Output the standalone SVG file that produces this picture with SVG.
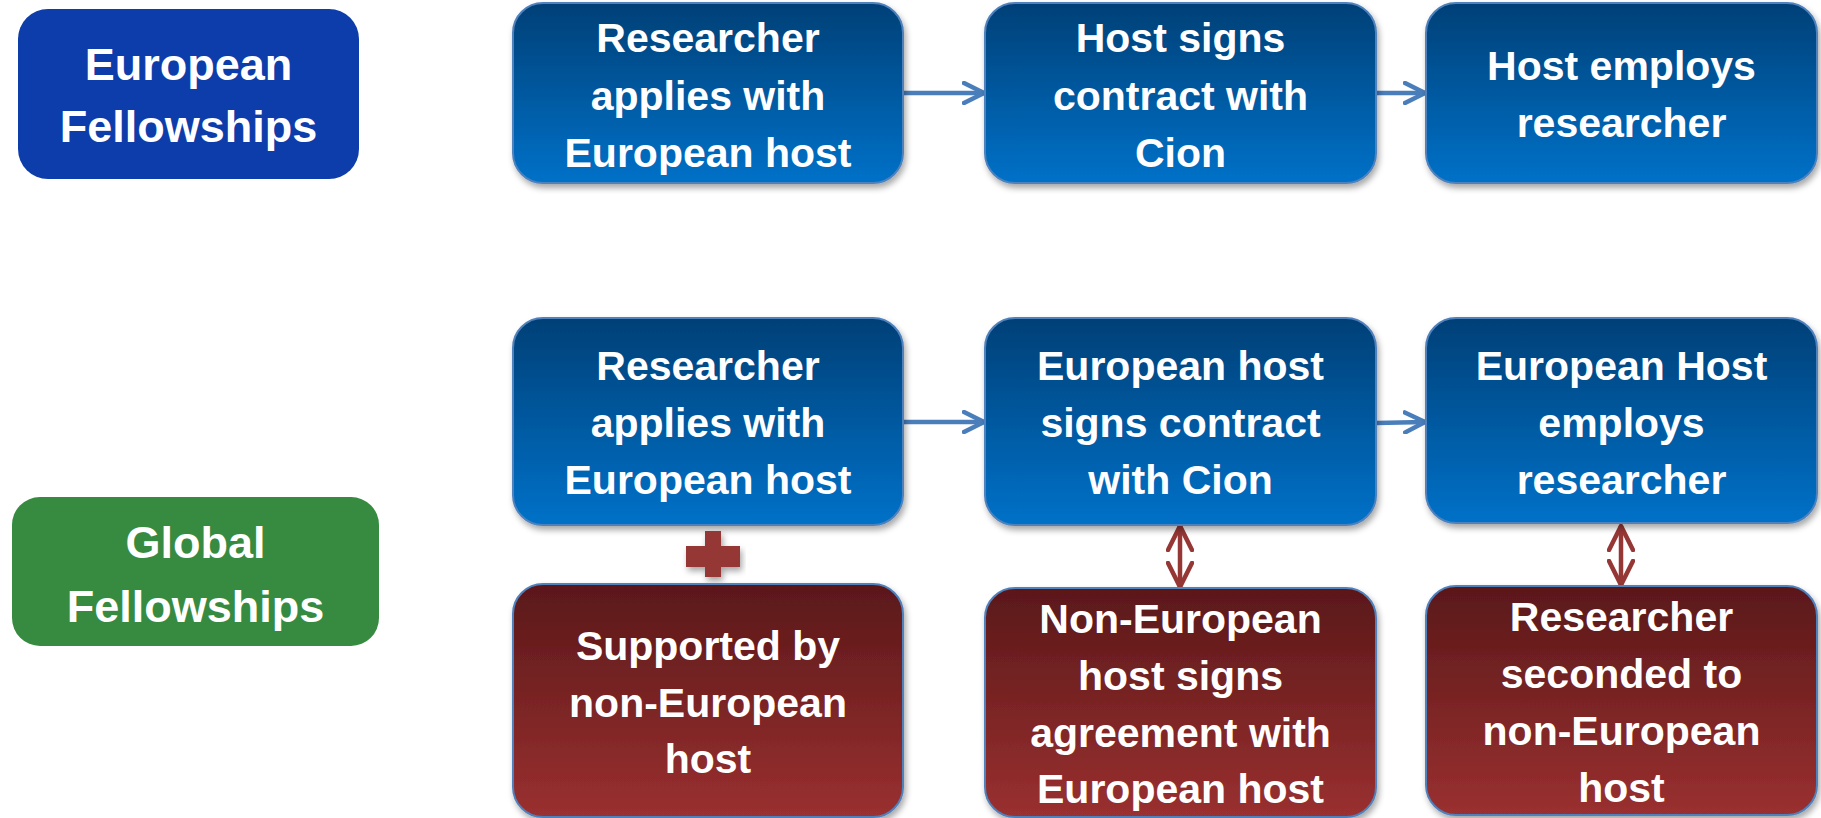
<svg xmlns="http://www.w3.org/2000/svg" width="1821" height="818" viewBox="0 0 1821 818">
<defs>
<linearGradient id="gBlue" x1="0" y1="0" x2="0" y2="1">
<stop offset="0" stop-color="#034077"/>
<stop offset="1" stop-color="#0071c8"/>
</linearGradient>
<linearGradient id="gRed" x1="0" y1="0" x2="0" y2="1">
<stop offset="0" stop-color="#5a1819"/>
<stop offset="1" stop-color="#9a3030"/>
</linearGradient>
<filter id="sh" x="-10%" y="-10%" width="120%" height="130%">
<feDropShadow dx="2" dy="4" stdDeviation="3" flood-color="#000" flood-opacity="0.35"/>
</filter>
<marker id="ab" viewBox="0 0 24 24" refX="22" refY="12" markerWidth="24" markerHeight="24" markerUnits="userSpaceOnUse" orient="auto">
<path d="M2,2 L22,12 L2,22" fill="none" stroke="#4a7ebb" stroke-width="4.5" stroke-linecap="round" stroke-linejoin="round"/>
</marker>
<marker id="ar" viewBox="0 0 28 28" refX="26" refY="14" markerWidth="28" markerHeight="28" markerUnits="userSpaceOnUse" orient="auto-start-reverse">
<path d="M2,2 L26,14 L2,26" fill="none" stroke="#953735" stroke-width="4.5" stroke-linecap="round" stroke-linejoin="round"/>
</marker>
</defs>
<style>
.blue{fill:url(#gBlue);stroke:#4f81bd;stroke-width:2;filter:url(#sh)}
.red{fill:url(#gRed);stroke:#4f81bd;stroke-width:2;filter:url(#sh)}
.t{font-family:"Liberation Sans",Arial,sans-serif;font-weight:bold;font-size:41px;fill:#fff;text-anchor:middle}
.lt{font-family:"Liberation Sans",Arial,sans-serif;font-weight:bold;font-size:45px;fill:#fff;text-anchor:middle}
.cb{fill:none;stroke:#4a7ebb;stroke-width:4.5;marker-end:url(#ab)}
.cr{fill:none;stroke:#953735;stroke-width:4.5;marker-start:url(#ar);marker-end:url(#ar)}
</style>
<rect width="1821" height="818" fill="#fff"/>

<g id="europeanFellowships">
<rect x="18" y="9" width="341" height="170" rx="30" fill="#0d3dab"/>
<text class="lt" x="188.5" y="80">European</text>
<text class="lt" x="188.5" y="142">Fellowships</text>
</g>
<g id="globalFellowships">
<rect x="12" y="497" width="367" height="149" rx="28" fill="#368b41"/>
<text class="lt" x="195.5" y="558">Global</text>
<text class="lt" x="195.5" y="622">Fellowships</text>
</g>

<g id="connectors">
<line class="cb" x1="903" y1="93" x2="984" y2="93"/>
<line class="cb" x1="1376" y1="93" x2="1425" y2="93"/>
<line class="cb" x1="903" y1="422" x2="984" y2="422"/>
<line class="cb" x1="1376" y1="423" x2="1425" y2="422"/>
<line class="cr" x1="1180" y1="526" x2="1180" y2="587"/>
<line class="cr" x1="1621" y1="526" x2="1621" y2="585"/>
</g>

<g id="ef1">
<rect class="blue" x="513" y="3" width="390" height="180" rx="30"/>
<text class="t" x="708" y="52">Researcher</text>
<text class="t" x="708" y="110">applies with</text>
<text class="t" x="708" y="167">European host</text>
</g>
<g id="ef2">
<rect class="blue" x="985" y="3" width="391" height="180" rx="30"/>
<text class="t" x="1180.5" y="52">Host signs</text>
<text class="t" x="1180.5" y="110">contract with</text>
<text class="t" x="1180.5" y="167">Cion</text>
</g>
<g id="ef3">
<rect class="blue" x="1426" y="3" width="391" height="180" rx="30"/>
<text class="t" x="1621.5" y="80">Host employs</text>
<text class="t" x="1621.5" y="137">researcher</text>
</g>

<g id="gf1">
<rect class="blue" x="513" y="318" width="390" height="207" rx="30"/>
<text class="t" x="708" y="380">Researcher</text>
<text class="t" x="708" y="437">applies with</text>
<text class="t" x="708" y="494">European host</text>
</g>
<g id="gf2">
<rect class="blue" x="985" y="318" width="391" height="207" rx="30"/>
<text class="t" x="1180.5" y="380">European host</text>
<text class="t" x="1180.5" y="437">signs contract</text>
<text class="t" x="1180.5" y="494">with Cion</text>
</g>
<g id="gf3">
<rect class="blue" x="1426" y="318" width="391" height="205" rx="30"/>
<text class="t" x="1621.5" y="380">European Host</text>
<text class="t" x="1621.5" y="437">employs</text>
<text class="t" x="1621.5" y="494">researcher</text>
</g>

<g id="plus" filter="url(#sh)">
<rect x="705" y="531" width="16" height="46" fill="#953735"/>
<rect x="686" y="546" width="54" height="21" fill="#953735"/>
</g>

<g id="gf4">
<rect class="red" x="513" y="584" width="390" height="233" rx="30"/>
<text class="t" x="708" y="660">Supported by</text>
<text class="t" x="708" y="717">non-European</text>
<text class="t" x="708" y="773">host</text>
</g>
<g id="gf5">
<rect class="red" x="985" y="588" width="391" height="229" rx="30"/>
<text class="t" x="1180.5" y="633">Non-European</text>
<text class="t" x="1180.5" y="690">host signs</text>
<text class="t" x="1180.5" y="747">agreement with</text>
<text class="t" x="1180.5" y="803">European host</text>
</g>
<g id="gf6">
<rect class="red" x="1426" y="586" width="391" height="229" rx="30"/>
<text class="t" x="1621.5" y="631">Researcher</text>
<text class="t" x="1621.5" y="688">seconded to</text>
<text class="t" x="1621.5" y="745">non-European</text>
<text class="t" x="1621.5" y="802">host</text>
</g>
</svg>
